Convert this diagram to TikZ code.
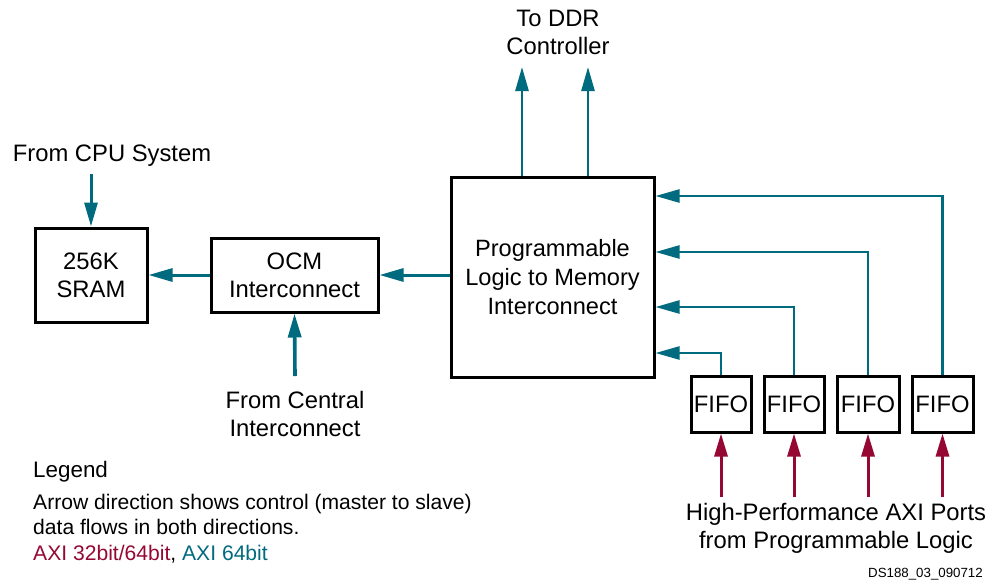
\documentclass[tikz,border=0pt]{standalone}
\usepackage{fontspec}
\setmainfont{Liberation Sans}
\usetikzlibrary{arrows.meta}
\definecolor{axiteal}{RGB}{0,106,126}
\definecolor{axired}{RGB}{150,8,52}
\newcommand\mainfs{\fontsize{23.8}{28}\selectfont}
\newcommand\plmfs{\fontsize{23.6}{29}\selectfont}
\newcommand\legfs{\fontsize{21.1}{25.5}\selectfont}
\newcommand\legtfs{\fontsize{22.4}{26}\selectfont}
\newcommand\idfs{\fontsize{13.3}{15}\selectfont}
\begin{document}
\begin{tikzpicture}[x=1pt,y=-1pt,
  box/.style={draw=black, line width=3pt, inner sep=0pt, align=center, font=\mainfs},
  lbl/.style={inner sep=0pt, align=center, font=\mainfs},
  tealarrow/.style={draw=axiteal, line width=3pt, -{Triangle[length=24pt,width=13pt]}},
  thinteal/.style={draw=axiteal, line width=2.4pt, -{Triangle[length=24pt,width=13pt]}},
  redarrow/.style={draw=axired, line width=3pt, -{Triangle[length=23pt,width=13pt]}}]
\useasboundingbox (0,0) rectangle (992,582);
\fill[white] (0,0) rectangle (992,582);

% boxes
\node[box, minimum width=112pt, minimum height=94pt] (sram) at (91,275) {256K\\SRAM};
\node[box, minimum width=167pt, minimum height=74pt] (ocm) at (294.5,275) {OCM\\Interconnect};
\node[box, minimum width=203pt, minimum height=200pt, font=\plmfs] (plm) at (552.5,277) {Programmable\\Logic to Memory\\Interconnect};
\node[box, minimum width=60pt, minimum height=56pt] (f1) at (721,404) {FIFO};
\node[box, minimum width=60pt, minimum height=56pt] (f2) at (794,404) {FIFO};
\node[box, minimum width=62pt, minimum height=56pt] (f3) at (868,404) {FIFO};
\node[box, minimum width=61pt, minimum height=56pt] (f4) at (942.5,404) {FIFO};

% labels
\node[lbl, anchor=base] (cpu) at (112,161) {From CPU System};
\node[lbl] (ddr) at (558,32) {To DDR\\Controller};
\node[lbl] (central) at (295,414) {From Central\\Interconnect};
\node[lbl] (hp) at (836,528) {High-Performance AXI Ports\\from Programmable Logic};
\node[inner sep=0pt, font=\idfs, anchor=base east] (dsid) at (983,577) {DS188\_03\_090712};

% legend
\node[inner sep=0pt, font=\legtfs, anchor=base west] (legt) at (33,477) {Legend};
\node[inner sep=0pt, font=\legfs, anchor=north west, align=left] (legb) at (33,493.5)
  {Arrow direction shows control (master to slave)\\data flows in both directions.\\
   \textcolor{axired}{AXI 32bit/64bit}, \textcolor{axiteal}{AXI 64bit}};

% free ends
\coordinate (cpuS) at (91,174);
\coordinate (centralS) at (295,376);
\coordinate (ddr1) at (522,67);
\coordinate (ddr2) at (588,67);

% teal connectors
\draw[tealarrow] (cpuS) -- (sram.north);
\draw[tealarrow] (ocm.west) -- (sram.east);
\draw[tealarrow] (plm.west |- ocm.east) -- (ocm.east);
\draw[tealarrow, line width=3.6pt] (centralS) -- (ocm.south);
\draw[tealarrow, line width=2.6pt] (522,0 |- plm.north) -- (ddr1);
\draw[tealarrow, line width=2.6pt] (588,0 |- plm.north) -- (ddr2);

\draw[thinteal] (f1.north) |- (plm.east |- 0,353);
\draw[thinteal] (f2.north) |- (plm.east |- 0,307);
\draw[thinteal] (f3.north) |- (plm.east |- 0,252);
\draw[thinteal] (f4.north) |- (plm.east |- 0,196);

% red connectors
\foreach \f in {f1,f2,f3,f4}
  \draw[redarrow] (\f.south |- 0,497) -- (\f.south);
\end{tikzpicture}
\end{document}
